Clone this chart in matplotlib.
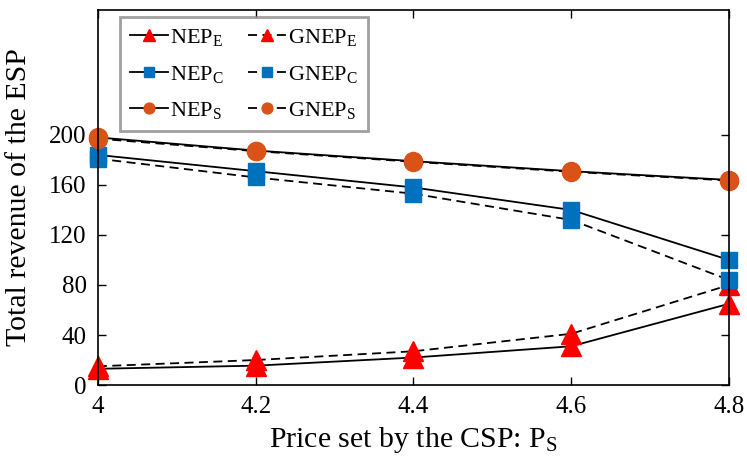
import matplotlib
matplotlib.use('Agg')
import matplotlib.pyplot as plt

plt.rcParams['font.family'] = ['Liberation Serif', 'DejaVu Serif']
plt.rcParams['mathtext.fontset'] = 'custom'
plt.rcParams['mathtext.rm'] = 'Liberation Serif'
plt.rcParams['mathtext.it'] = 'Liberation Serif:italic'

# price set by the CSP
price = [4.0, 4.2, 4.4, 4.6, 4.8]

# total revenue of the ESP
nep_e = [13, 15.5, 22, 31, 65]
gnep_e = [15, 20, 27, 41, 80]
nep_c = [184, 171, 158, 140, 100]
gnep_c = [181, 166, 153, 132, 84]
nep_s = [198, 187.5, 179, 171, 164]
gnep_s = [197, 187, 178.5, 170.5, 163.5]

xticks = [4, 4.2, 4.4, 4.6, 4.8]
xticklabels = ['4', '4.2', '4.4', '4.6', '4.8']
yticks = [0, 40, 80, 120, 160, 200]

red = '#FF0000'
blue = '#0072BD'
orange = '#D95319'

fig = plt.figure(figsize=(7.47, 4.69), dpi=100)
ax = fig.add_axes([0.131, 0.179, 0.845, 0.80])

kw = dict(color='k', lw=1.3, clip_on=False)
ax.plot(price, nep_e, '-', marker='^', ms=14, mfc=red, mec=red, label=r'NEP$_{\mathrm{E}}$', **kw)
ax.plot(price, nep_c, '-', marker='s', ms=12, mfc=blue, mec=blue, label=r'NEP$_{\mathrm{C}}$', **kw)
ax.plot(price, nep_s, '-', marker='o', ms=13, mfc=orange, mec=orange, label=r'NEP$_{\mathrm{S}}$', **kw)
ax.plot(price, gnep_e, '--', dashes=(5, 3), marker='^', ms=14, mfc=red, mec=red, label=r'GNEP$_{\mathrm{E}}$', **kw)
ax.plot(price, gnep_c, '--', dashes=(5, 3), marker='s', ms=12, mfc=blue, mec=blue, label=r'GNEP$_{\mathrm{C}}$', **kw)
ax.plot(price, gnep_s, '--', dashes=(5, 3), marker='o', ms=13, mfc=orange, mec=orange, label=r'GNEP$_{\mathrm{S}}$', **kw)

ax.set_xlim(4, 4.8)
ax.set_ylim(0, 300)
ax.set_xticks(xticks)
ax.set_xticklabels(xticklabels)
ax.set_yticks(yticks)
ax.tick_params(direction='in', top=True, right=True, labelsize=18, length=6, width=1, pad=8)
for s in ax.spines.values():
    s.set_linewidth(1.2)

ax.set_xlabel(r'Price set by the CSP: P$_{\mathrm{S}}$', fontsize=21.5, labelpad=5)
ax.set_ylabel('Total revenue of the ESP', fontsize=21.5)
ax.yaxis.set_label_coords(-0.105, 0.5)

leg = ax.legend(loc='upper left', ncol=2, fontsize=16, frameon=True, fancybox=False,
                bbox_to_anchor=(0.035, 0.981), borderaxespad=0, handlelength=1.7,
                handletextpad=0.1, columnspacing=1.1, labelspacing=0.7, borderpad=0.45,
                markerscale=0.6)
leg.get_frame().set_edgecolor('#888888')
leg.get_frame().set_linewidth(2)

fig.savefig('out.png', dpi=100)
